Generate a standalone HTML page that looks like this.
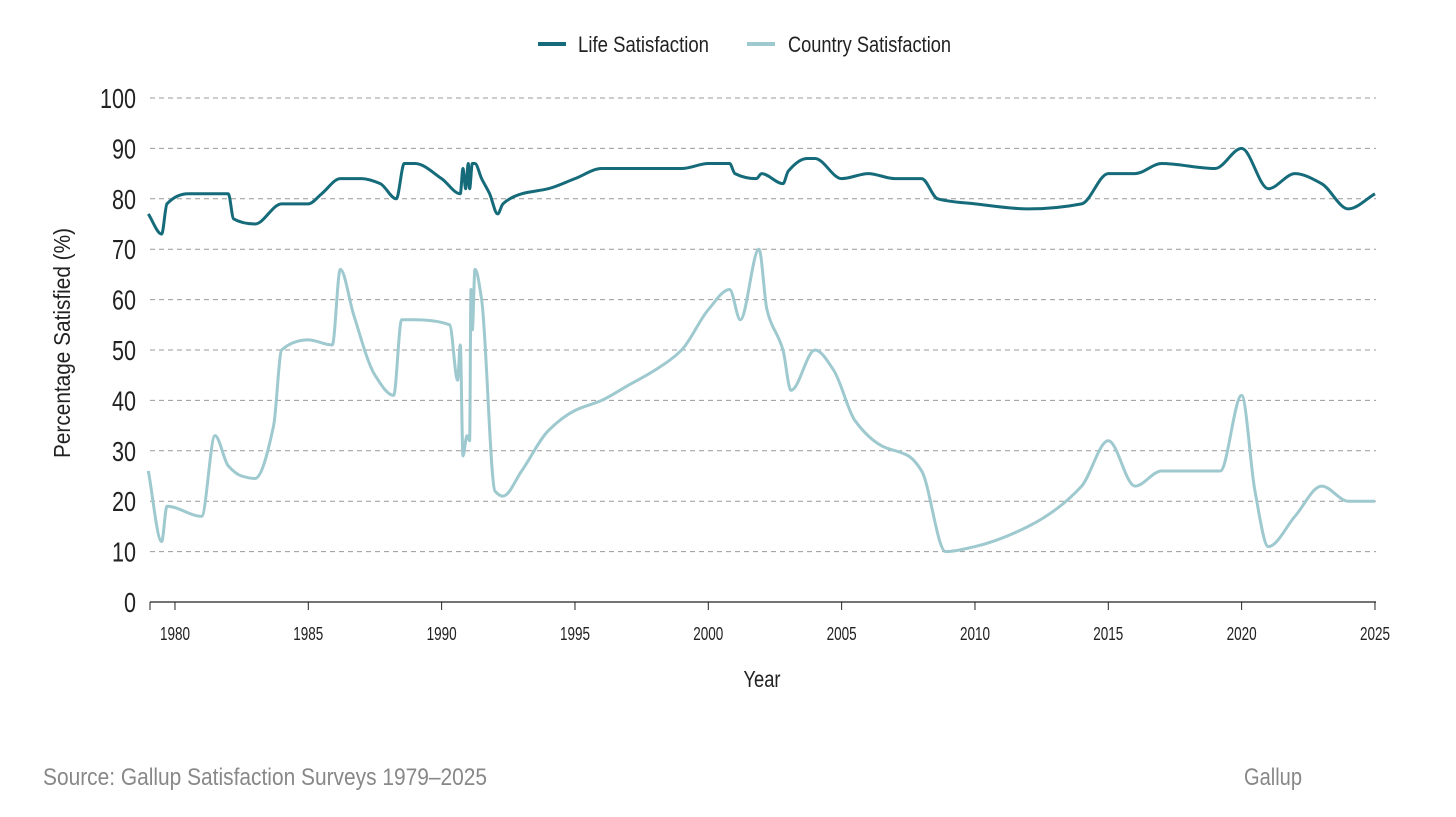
<!DOCTYPE html>
<html><head><meta charset="utf-8">
<style>
html,body{margin:0;padding:0;background:#fff;}
svg{display:block;font-family:"Liberation Sans Narrow","Liberation Sans",sans-serif;}
</style></head>
<body>
<svg id="chart" width="1456" height="817" viewBox="0 0 1456 817">
  <g id="legend">
    <g>
      <line x1="538" y1="44" x2="566" y2="44" stroke="#156b7a" stroke-width="4"/>
      <text x="578" y="52" font-size="22" fill="#222" textLength="131" lengthAdjust="spacingAndGlyphs">Life Satisfaction</text>
    </g>
    <g>
      <line x1="747" y1="44" x2="775" y2="44" stroke="#9ec9cf" stroke-width="4"/>
      <text x="788" y="52" font-size="22" fill="#222" textLength="163" lengthAdjust="spacingAndGlyphs">Country Satisfaction</text>
    </g>
  </g>
  <g id="grid"></g>
  <g id="yticks"></g>
  <g id="xticks"></g>
  <text x="70" y="343" font-size="23" fill="#222" text-anchor="middle" transform="rotate(-90 70 343)" textLength="230" lengthAdjust="spacingAndGlyphs">Percentage Satisfied (%)</text>
  <text x="762" y="687" font-size="23" fill="#222" text-anchor="middle" textLength="37" lengthAdjust="spacingAndGlyphs">Year</text>
  <g id="series"></g>
  <text x="43" y="785" font-size="24" fill="#888" textLength="444" lengthAdjust="spacingAndGlyphs">Source: Gallup Satisfaction Surveys 1979–2025</text>
  <text x="1244" y="785" font-size="24" fill="#888" textLength="58" lengthAdjust="spacingAndGlyphs">Gallup</text>
</svg>
<script>
const yTicks=[0,10,20,30,40,50,60,70,80,90,100];
const xTicks=[1980,1985,1990,1995,2000,2005,2010,2015,2020,2025];
const lifeYears=[1979,1979.5,1979.7,1980.5,1982,1982.2,1983,1984,1985,1985.5,1986.2,1987,1987.7,1988.3,1988.6,1989,1990,1990.7,1990.8,1990.9,1991,1991.05,1991.15,1991.25,1991.5,1991.8,1992.1,1992.3,1993,1994,1995,1996,1997,1999,2000,2000.8,2001,2001.8,2002,2002.8,2003,2003.7,2004,2005,2006,2007,2008,2008.6,2010,2012,2014,2015,2016,2017,2019,2020,2021,2022,2023,2024,2025];
const lifeValues=[77,73,79,81,81,76,75,79,79,81,84,84,83,80,87,87,84,81,86,82,87,82,87,87,84,81,77,79,81,82,84,86,86,86,87,87,85,84,85,83,85.5,88,88,84,85,84,84,80,79,78,79,85,85,87,86,90,82,85,83,78,81];
const countryYears=[1979,1979.5,1979.7,1981,1981.5,1982,1982.5,1983,1983.7,1984,1985,1985.9,1986.2,1986.7,1987.5,1988.2,1988.5,1989,1990.3,1990.6,1990.7,1990.8,1990.95,1991.05,1991.1,1991.15,1991.25,1991.5,1992,1992.3,1993,1994,1995,1996,1997,1998,1999,2000,2000.8,2001.2,2001.9,2002.2,2002.8,2003.1,2004,2004.7,2005.5,2006.5,2007.5,2008,2008.9,2010,2012,2014,2015,2016,2017,2018,2019.2,2020,2020.5,2021,2022,2023,2024,2025];
const countryValues=[26,12,19,17,33,27,25,24.5,35,50,52,51,66,57,45,41,56,56,55,44,51,29,33,32,62,54,66,60,22,21,26,34,38,40,43,46,50,58,62,56,70,58,50,42,50,46,36,31,29,26,10,11,15,23,32,23,26,26,26,41,22,11,17,23,20,20];

const NS="http://www.w3.org/2000/svg";
const x0=148.3,pxYear=1200/45,yBase=602,pxUnit=5.04;
function xs(v){return x0+(v-1979)*pxYear;}
function ys(v){return yBase-v*pxUnit;}
function mk(tag,attrs,parent){const e=document.createElementNS(NS,tag);for(const k in attrs)e.setAttribute(k,attrs[k]);parent.appendChild(e);return e;}
const grid=document.getElementById('grid'),yt=document.getElementById('yticks'),xt=document.getElementById('xticks'),ser=document.getElementById('series');
yTicks.forEach(t=>{
  if(t>0){const l=mk('line',{x1:150,x2:1376,y1:ys(t),y2:ys(t),stroke:'#999','stroke-dasharray':'5,4','stroke-width':1},grid);
  
  }
  const len=String(t).length*12;
  const tx=mk('text',{x:136,y:ys(t)+10,'font-size':28,fill:'#222','text-anchor':'end',textLength:len,lengthAdjust:'spacingAndGlyphs'},yt);tx.textContent=t;
  
  
});
mk('line',{x1:150,x2:1376,y1:yBase,y2:yBase,stroke:'#222','stroke-width':1.3},xt);
mk('line',{x1:150,x2:150,y1:yBase,y2:yBase+8,stroke:'#222'},xt);
xTicks.forEach(t=>{
  mk('line',{x1:xs(t),x2:xs(t),y1:yBase,y2:yBase+8,stroke:'#222'},xt);
  const tx=mk('text',{x:xs(t),y:yBase+38,'font-size':18,fill:'#222','text-anchor':'middle',textLength:30,lengthAdjust:'spacingAndGlyphs'},xt);tx.textContent=t;
  
  
});
function monotonePath(X,Y){
  const n=X.length,px=X.map(xs),py=Y.map(ys);
  const d=[],m=new Array(n);
  for(let i=0;i<n-1;i++)d.push((py[i+1]-py[i])/(px[i+1]-px[i]));
  m[0]=d[0];m[n-1]=d[n-2];
  for(let i=1;i<n-1;i++){if(d[i-1]*d[i]<=0)m[i]=0;else{const h0=px[i]-px[i-1],h1=px[i+1]-px[i];m[i]=3*(h0+h1)/((2*h1+h0)/d[i-1]+(h1+2*h0)/d[i]);}}
  let s='M'+px[0]+','+py[0];
  for(let i=0;i<n-1;i++){const h=(px[i+1]-px[i])/3;s+='C'+(px[i]+h)+','+(py[i]+m[i]*h)+' '+(px[i+1]-h)+','+(py[i+1]-m[i+1]*h)+' '+px[i+1]+','+py[i+1];}
  return s;
}
const pc=mk('path',{d:monotonePath(countryYears,countryValues),fill:'none',stroke:'#9ec9cf','stroke-width':3,'stroke-linejoin':'round'},ser);


const pl=mk('path',{d:monotonePath(lifeYears,lifeValues),fill:'none',stroke:'#156b7a','stroke-width':3,'stroke-linejoin':'round'},ser);


</script>
</body></html>
